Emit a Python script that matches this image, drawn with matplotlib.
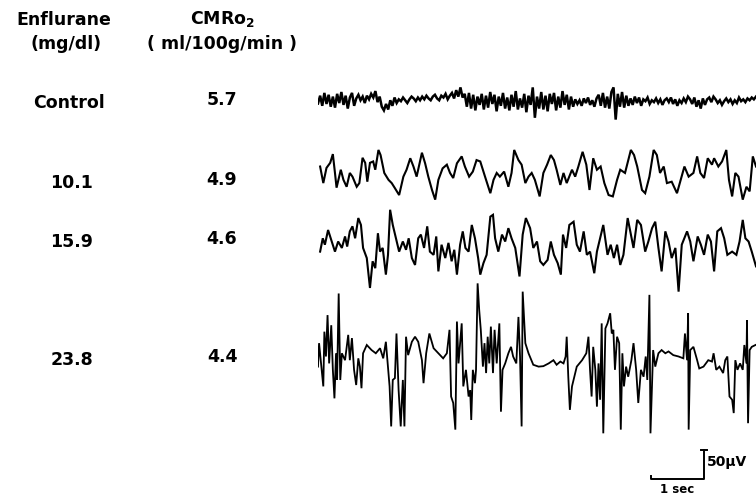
import numpy as np
import matplotlib
matplotlib.use("Agg")
import matplotlib.pyplot as plt

# Row labels
enflurane = ["Control", "10.1", "15.9", "23.8"]
cmro2 = ["5.7", "4.9", "4.6", "4.4"]

# EEG traces, deflection in uV (up = positive)
# trace 1 (control): evenly sampled over the sweep
eeg_control = [
    -5, 12, -10, 18, -6, 14, -12,
    10, -14, 16, -4, 20, -8, 12, -16, 8, 18, -10,
    6, 14, 2, 10, -4, 12, 4, 16, 8, 22, -2, 10,
    -12, -20, -6, -18, 2, -10, 8, -4,
    4, 0, 8, 2, -4, 4, 10, 6, 0, 8, 2, 10, 4, 12, 6, 2, 10, 14, 6, 2, 12, 8, 16, 4, 12,
    18, 6, 24, 10, 30, 8, 16,
    -12, 18, -16, 14, -20, 10, -8, 16, -18, 12, -14, 20, -6, 14, -22, 10, -10, 18, -16, 8,
    -20, 14, -12, 22, -18, 6, -14, 16, -24, 12, -8, 30, -36, 10,
    -16, 20, -18, 12, -22, 16, -6, 18, -20, 10, -14, 22, -8, 14, -18, 10, -12,
    4, -6, 2, -10, 6, -4, 8, -8, 2, -12, 6,
    14, -10, 18, -14, 10, -16, 20, 30, -40, 16, -12, 20, -14, 12, -10,
    6, -8, 10, -4, 8, -10, 4, 0, 8, -6, 2, -2, 6, -4, 4, -8, 2, 6, -2, 8,
    -6, 4, -10, 2, -4, 6, -2, 10, 4, -6, 8, -12, 2, -16, 6, -8, 4, 8, -2, 10,
    4, -4, 2, -8, 0, 6, -2, 4, -6, 2, -4, 8, 0, 4, -2, 6, 2, 8, 4, 10,
]

# traces 2-4: turning points (time in s, deflection in uV)
t_101 = [0.04, 0.10, 0.16, 0.23, 0.28, 0.32, 0.35, 0.43, 0.48, 0.54, 0.60, 0.65, 0.73, 0.78,
         0.84, 0.89, 0.93, 0.98, 1.04, 1.08, 1.14, 1.18, 1.25, 1.33, 1.39, 1.45, 1.53, 1.61,
         1.67, 1.74, 1.80, 1.86, 1.96, 2.02, 2.08, 2.15, 2.21, 2.27, 2.35, 2.43, 2.49, 2.55,
         2.62, 2.71, 2.77, 2.85, 2.92, 2.99, 3.06, 3.15, 3.25, 3.31, 3.37, 3.43, 3.51, 3.59,
         3.65, 3.70, 3.78, 3.84, 3.91, 3.97, 4.03, 4.09, 4.18, 4.25, 4.32, 4.39, 4.45, 4.50,
         4.57, 4.63, 4.69, 4.79, 4.85, 4.91, 4.99, 5.06, 5.12, 5.19, 5.26, 5.33, 5.40, 5.48,
         5.56, 5.64, 5.70, 5.79, 5.90, 5.96, 6.02, 6.11, 6.17, 6.25, 6.33, 6.39, 6.45, 6.52,
         6.58, 6.67, 6.77, 6.84, 6.91, 6.99, 7.08, 7.15, 7.21, 7.28, 7.35, 7.43, 7.47, 7.55,
         7.62, 7.70, 7.75, 7.81, 7.87, 7.93, 8.01, 8.08, 8.14, 8.20, 8.26]
v_101 = [16, -20, 13, 24, 43, 2, -30, 9, -13, -28, 2, -6, -28, -20,
         35, 24, -17, 24, 27, 9, 52, 41, 2, -13, -20, -31, -46, -6,
         9, 34, 16, -6, 46, 23, -6, -35, -56, -13, 12, 20, 2, -9,
         23, 38, 16, -6, 5, 30, 27, -6, -42, -13, 2, -6, 5, -28,
         2, 52, 30, 20, -20, -6, 2, -13, -49, 2, 20, 41, 30, 9,
         -24, 2, -20, 9, -6, 16, 48, 20, -35, 34, 9, 16, -20, -46,
         -49, -13, 9, 2, 52, 41, 16, -35, -42, -6, 52, 41, 2, 16,
         -20, -17, -42, -13, 16, -6, 2, 38, 2, -9, 34, 20, 34, 16,
         27, 52, -13, -49, 2, -6, -56, -28, -38, 38, 16]

t_159 = [0.04, 0.09, 0.13, 0.19, 0.26, 0.32, 0.38, 0.45, 0.51, 0.55, 0.60, 0.65, 0.70, 0.76,
         0.81, 0.85, 0.92, 0.98, 1.03, 1.08, 1.13, 1.17, 1.22, 1.28, 1.32, 1.36, 1.41, 1.47,
         1.53, 1.60, 1.66, 1.71, 1.77, 1.83, 1.89, 1.94, 2.00, 2.06, 2.11, 2.18, 2.23, 2.27,
         2.33, 2.40, 2.46, 2.52, 2.57, 2.62, 2.68, 2.73, 2.78, 2.84, 2.90, 2.96, 3.02, 3.06,
         3.12, 3.18, 3.25, 3.30, 3.34, 3.40, 3.47, 3.53, 3.59, 3.65, 3.72, 3.80, 3.86, 3.92,
         4.00, 4.06, 4.13, 4.19, 4.25, 4.33, 4.39, 4.45, 4.52, 4.58, 4.62, 4.68, 4.74, 4.82,
         4.88, 4.94, 5.01, 5.07, 5.13, 5.21, 5.26, 5.32, 5.38, 5.46, 5.52, 5.58, 5.64, 5.70,
         5.76, 5.84, 5.89, 5.95, 6.02, 6.09, 6.17, 6.23, 6.30, 6.36, 6.42, 6.48, 6.55, 6.61,
         6.67, 6.74, 6.80, 6.86, 6.96, 7.02, 7.08, 7.16, 7.22, 7.28, 7.35, 7.41, 7.47, 7.53,
         7.60, 7.66, 7.72, 7.81, 7.89, 7.95, 8.01, 8.06, 8.12, 8.18, 8.26]
v_159 = [-17, 12, -2, 30, 5, -17, 5, -9, 16, -6, 27, 38, 12, 56,
         41, -9, -31, -96, -38, -53, 23, -17, -9, -67, -24, 74, 41, 12,
         -17, 5, -13, 12, -31, -46, 12, 20, -9, 38, -17, -24, 16, -60,
         -2, -31, 2, -38, -13, -67, -2, 27, -9, -17, 41, 12, -31, -67,
         -42, -24, 59, 63, 12, -17, 20, 5, 34, 12, -9, -71, 20, 56,
         34, -9, 5, -38, -46, -35, 5, -24, -42, -67, 20, -9, 41, 48,
         -2, -17, 27, -24, -17, -64, -17, 12, 41, -24, -2, -31, -2, -46,
         -24, 56, 27, -9, 52, 41, -17, 5, 34, 48, -9, -60, 27, 5,
         -31, -9, -104, -2, 27, 5, -38, 16, -2, -24, 20, 5, -60, 27,
         34, 12, -24, -17, -24, 5, 52, 12, 5, -17, -49]

t_238 = [0.00, 0.02, 0.07, 0.10, 0.12, 0.15, 0.18, 0.21, 0.25, 0.28, 0.31, 0.34, 0.36, 0.39,
         0.42, 0.45, 0.51, 0.57, 0.60, 0.64, 0.68, 0.72, 0.76, 0.79, 0.82, 0.85, 0.92, 1.01,
         1.09, 1.17, 1.23, 1.28, 1.32, 1.35, 1.38, 1.41, 1.45, 1.48, 1.52, 1.56, 1.60, 1.63,
         1.66, 1.70, 1.77, 1.83, 1.89, 1.96, 1.99, 2.04, 2.10, 2.18, 2.27, 2.36, 2.43, 2.48,
         2.51, 2.55, 2.59, 2.62, 2.65, 2.68, 2.71, 2.74, 2.79, 2.84, 2.87, 2.89, 2.92, 2.96,
         2.98, 3.01, 3.04, 3.07, 3.11, 3.14, 3.17, 3.20, 3.23, 3.26, 3.30, 3.33, 3.37, 3.42,
         3.45, 3.48, 3.53, 3.59, 3.64, 3.68, 3.74, 3.78, 3.81, 3.84, 3.86, 3.91, 3.97, 4.06,
         4.16, 4.25, 4.35, 4.44, 4.50, 4.57, 4.63, 4.67, 4.69, 4.72, 4.75, 4.79, 4.82, 4.88,
         4.98, 5.06, 5.10, 5.13, 5.16, 5.19, 5.23, 5.26, 5.29, 5.32, 5.35, 5.38, 5.42, 5.46,
         5.51, 5.54, 5.57, 5.60, 5.64, 5.68, 5.71, 5.74, 5.77, 5.81, 5.85, 5.91, 5.95, 6.00,
         6.04, 6.09, 6.14, 6.18, 6.21, 6.25, 6.27, 6.32, 6.36, 6.42, 6.48, 6.55, 6.61, 6.70,
         6.80, 6.89, 6.92, 6.96, 6.98, 6.99, 7.02, 7.08, 7.15, 7.19, 7.27, 7.36, 7.43, 7.46,
         7.51, 7.57, 7.64, 7.68, 7.72, 7.76, 7.81, 7.84, 7.87, 7.91, 7.96, 8.01, 8.04, 8.08,
         8.09, 8.11, 8.14, 8.18, 8.25]
v_238 = [-21, 30, -28, -64, 55, 1, 91, -14, 69, -28, -90, 8, -50, 138,
         -50, 8, -7, 48, -7, 41, -28, -61, -3, -21, -68, 8, 26, 15,
         8, 19, -3, 33, -21, -64, -151, -50, -46, 51, -72, -151, -50, -151,
         44, 4, 33, 44, 33, -7, -57, 8, 51, 19, 8, -3, 8, 59,
         -86, -100, -158, 77, -14, 30, 73, -64, -28, -86, -72, -137, -28, -57,
         -28, 160, 102, 59, -21, 30, -35, 44, -14, 66, -35, 59, -14, 73,
         -119, -28, -14, 8, 22, 1, -14, 87, 1, -151, 142, 30, 8, -17,
         -21, -20, -14, -7, -17, -10, -14, 1, 44, -43, -115, -64, -50, -21,
         -7, 8, 44, -28, -86, 22, -28, -108, -14, -93, 73, -166, 62, 73,
         95, 51, 59, -28, 44, 30, -158, 8, -64, -21, -43, -7, 30, -28,
         -100, -28, -43, 1, -50, 135, -166, 15, -21, 8, 15, 8, 12, 4,
         1, -3, 51, -7, 95, -158, 15, 22, -7, -25, -21, -7, -10, 8,
         -28, -21, -35, -7, 1, -86, -93, -122, -7, -28, -14, -28, 26, -14,
         80, -144, 15, 22, 26]

sweep = 8.26  # seconds across the panel
row_offset = [-220, -378, -530, -776]  # baseline of each trace (uV below top edge)
row_label_y = [103, 183, 242, 360]     # label rows, pixels from top

W, H = 756, 501
fig = plt.figure(figsize=(W / 100, H / 100), dpi=100)
fig.patch.set_facecolor("white")

ax = fig.add_axes([318 / W, 0, 1 - 318 / W, 1])
ax.set_xlim(0, sweep)
ax.set_ylim(-H * 50 / 23, 0)
ax.axis("off")

t_ctrl = np.linspace(0, sweep, len(eeg_control))
traces = [(t_ctrl, eeg_control), (t_101, v_101), (t_159, v_159), (t_238, v_238)]
for (t, v), off, lw in zip(traces, row_offset, [1.8, 1.5, 1.5, 1.3]):
    ax.plot(t, np.array(v) + off, color="black", lw=lw, solid_joinstyle="miter")

# calibration bars: 1 sec and 50 uV
bar_x1, bar_y = 7.28, -1041
ax.plot([bar_x1 - 1, bar_x1 - 1, bar_x1, bar_x1], [bar_y + 6, bar_y, bar_y, bar_y + 63],
        color="black", lw=1.4)
ax.plot([bar_x1 - 0.05, bar_x1 + 0.05], [bar_y + 63, bar_y + 63], color="black", lw=1.4)
ax.text(bar_x1 + 0.06, bar_y + 36, "50\u03bcV", fontsize=10, fontweight="bold",
        ha="left", va="center")
ax.text(bar_x1 - 0.5, bar_y - 8, "1 sec", fontsize=8.5, fontweight="bold",
        ha="center", va="top")

fs = 12.5
def ftext(x, y, s, **kw):
    fig.text(x / W, 1 - y / H, s, ha="center", va="center", fontsize=fs,
             fontweight="bold", **kw)

ftext(64, 20, "Enflurane")
ftext(66, 44, "(mg/dl)")
ftext(222, 19, r"CMRo$_\mathbf{2}$")
ftext(222, 44, "( ml/100g/min )")
for lab, val, y in zip(enflurane, cmro2, row_label_y):
    ftext(69 if lab == "Control" else 72, y, lab)
    ftext(222, y - 3, val)

fig.savefig("out.png", dpi=100, facecolor="white")
